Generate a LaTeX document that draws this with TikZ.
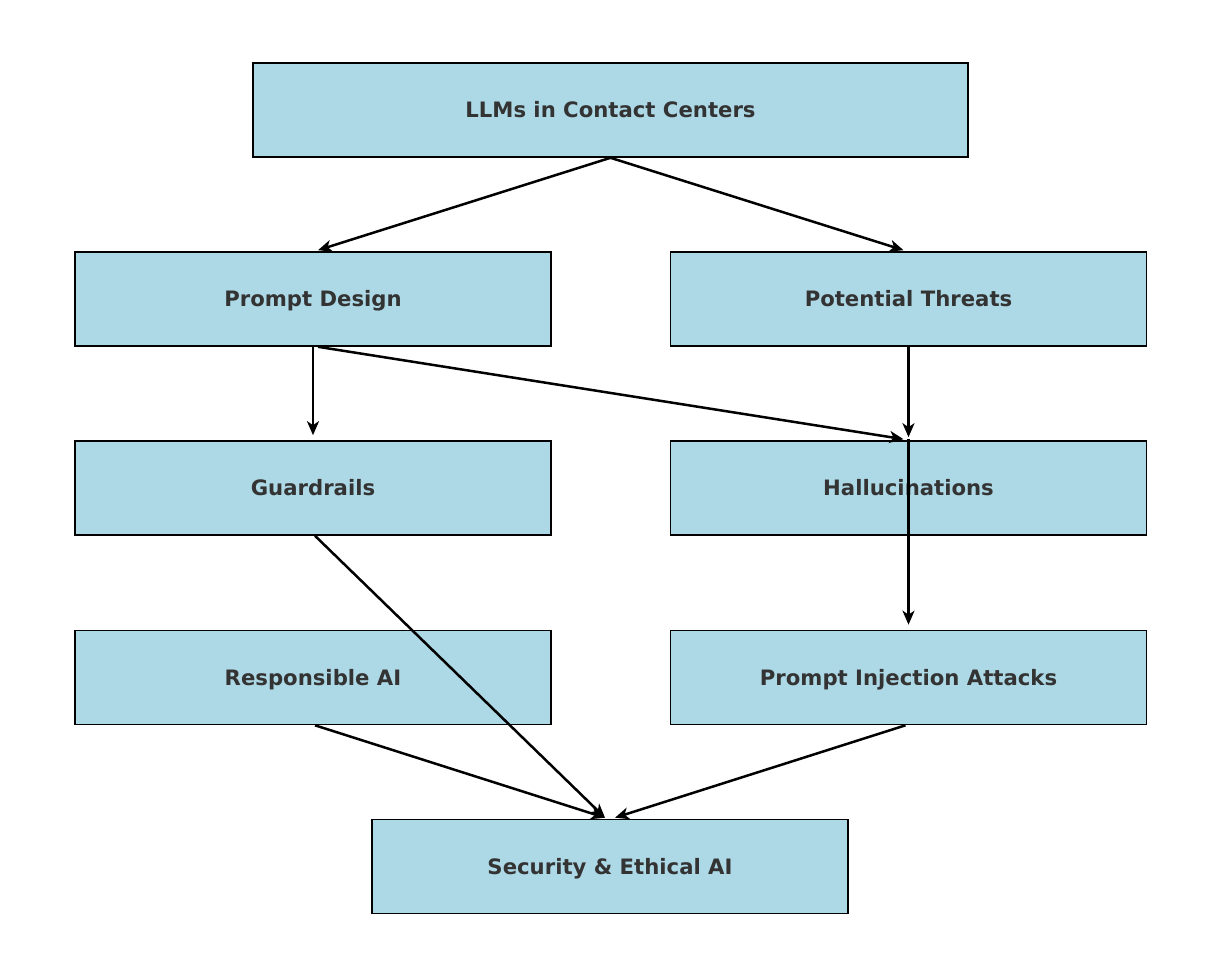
\documentclass[tikz,border=0pt]{standalone}
\usepackage{fontspec}
\setmainfont{DejaVu Sans}
\usetikzlibrary{arrows.meta}
\definecolor{boxfill}{HTML}{ADD8E6}
\definecolor{txt}{HTML}{333333}
\begin{document}
\begin{tikzpicture}[x=0.5pt,y=-0.5pt,
  box/.style={draw=black,line width=0.8pt,fill=boxfill,minimum width=238pt,minimum height=47pt,inner sep=0pt,text height=8.8pt,text depth=1.2pt,font=\bfseries\fontsize{10.6}{12}\selectfont,text=txt},
  conn/.style={draw=black,line width=1.25pt,-{Stealth[length=7pt,width=6pt,inset=2pt]}}]
\useasboundingbox (0,0) rectangle (1220,977);
\node[box,minimum width=357.5pt] (top) at (610.5,110) {LLMs in Contact Centers};
\node[box] (pd) at (313,299) {Prompt Design};
\node[box] (pt) at (908.5,299) {Potential Threats};
\node[box] (gr) at (313,488) {Guardrails};
\node[box] (ha) at (908.5,488) {Hallucinations};
\node[box] (ra) at (313,677.5) {Responsible AI};
\node[box] (pi) at (908.5,677.5) {Prompt Injection Attacks};
\node[box] (se) at (610,866.5) {Security \& Ethical AI};
\draw[conn] (top.south) -- ([xshift=2.5pt,yshift=0.5pt]pd.north);
\draw[conn] (top.south) -- ([xshift=-2.5pt,yshift=0.5pt]pt.north);
\draw[conn] (pd.south) -- ([yshift=2.5pt]gr.north);
\draw[conn] ([xshift=2.5pt]pd.south) -- ([xshift=-2.5pt,yshift=0.5pt]ha.north);
\draw[conn] (pt.south) -- ([yshift=1.5pt]ha.north);
\draw[conn] ([yshift=0.5pt]ha.north) -- ([yshift=2.5pt]pi.north);
\draw[conn] ([xshift=1pt]gr.south) -- ([xshift=-2.5pt,yshift=0.5pt]se.north);
\draw[conn] ([xshift=1pt]ra.south) -- ([xshift=-2.5pt,yshift=0.5pt]se.north);
\draw[conn] ([xshift=-1.5pt]pi.south) -- ([xshift=2.5pt,yshift=0.5pt]se.north);
\end{tikzpicture}
\end{document}
